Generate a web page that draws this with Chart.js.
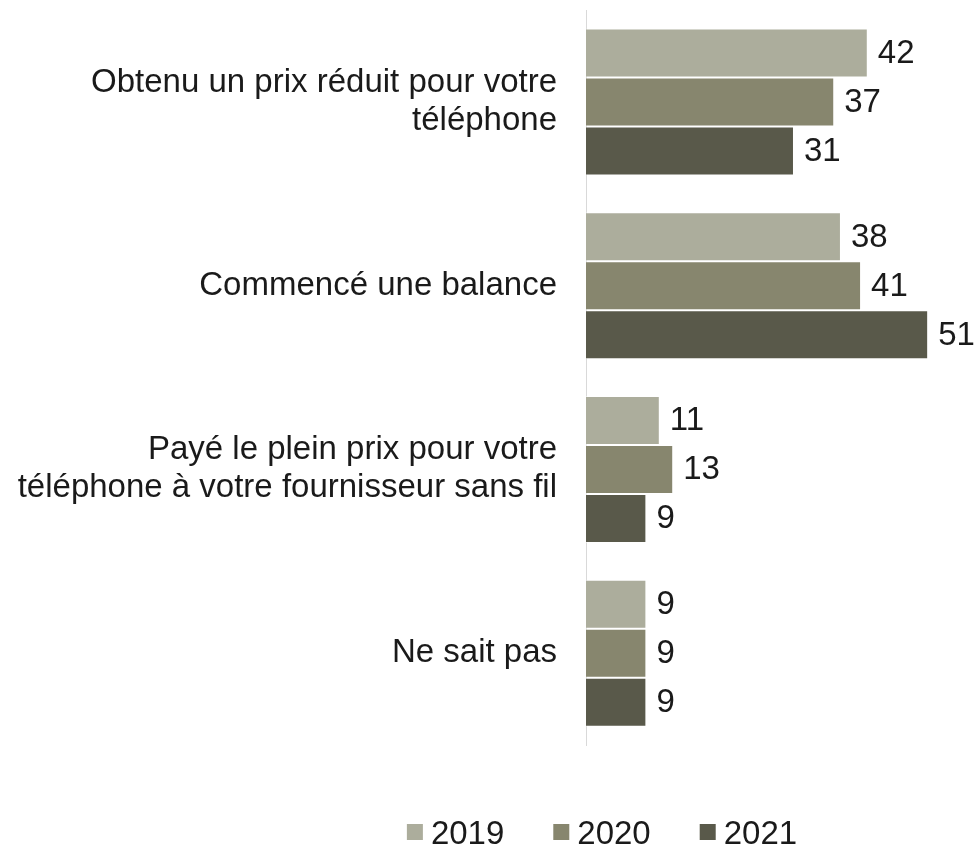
<!DOCTYPE html>
<html lang="fr">
<head>
<meta charset="utf-8">
<title>Prix du téléphone</title>
<script src="https://cdn.jsdelivr.net/npm/chart.js@4/dist/chart.umd.min.js"></script>
<style>
    html, body { margin: 0; padding: 0; background: #fff; }
    #wrap { width: 977px; height: 854px; position: relative; }
</style>
</head>
<body>
<div id="wrap"><canvas id="phoneChart"></canvas></div>
<script>
// Categories (multi-line labels) and yearly values
const categories = [
    ['Obtenu un prix réduit pour votre', 'téléphone'],
    'Commencé une balance',
    ['Payé le plein prix pour votre', 'téléphone à votre fournisseur sans fil'],
    'Ne sait pas'
];
const years = ['2019', '2020', '2021'];
const values2019 = [42, 38, 11, 9];
const values2020 = [37, 41, 13, 9];
const values2021 = [31, 51, 9, 9];

const colors = ['#acad9c', '#87866e', '#59594a'];
const fontFamily = '"Liberation Sans", Arial, sans-serif';
const textColor = '#1a1a1a';

// Writes each bar's value just past its end
const valueLabels = {
    id: 'valueLabels',
    afterDatasetsDraw(chart) {
        const ctx = chart.ctx;
        ctx.save();
        ctx.font = '33px ' + fontFamily;
        ctx.fillStyle = textColor;
        ctx.textAlign = 'left';
        ctx.textBaseline = 'middle';
        chart.data.datasets.forEach((ds, i) => {
            chart.getDatasetMeta(i).data.forEach((bar, j) => {
                ctx.fillText(ds.data[j], bar.x + 10, bar.y + 1);
            });
        });
        ctx.restore();
    }
};

// Legend row under the plot: small square + year, tight spacing
const bottomLegend = {
    id: 'bottomLegend',
    afterDraw(chart) {
        const ctx = chart.ctx;
        const box = 16, gap = 8, spacing = 49;
        const y = 834;
        ctx.save();
        ctx.font = '33px ' + fontFamily;
        ctx.textBaseline = 'middle';
        ctx.textAlign = 'left';
        const items = chart.data.datasets.map(ds => ({
            text: ds.label,
            color: ds.backgroundColor,
            w: box + gap + ctx.measureText(ds.label).width
        }));
        const total = items.reduce((s, it) => s + it.w, 0) + spacing * (items.length - 1);
        let x = 602 - total / 2;
        items.forEach(it => {
            ctx.fillStyle = it.color;
            ctx.fillRect(x, y - box / 2 - 2, box, box);
            ctx.fillStyle = textColor;
            ctx.fillText(it.text, x + box + gap, y + 1);
            x += it.w + spacing;
        });
        ctx.restore();
    }
};

const ctx = document.getElementById('phoneChart').getContext('2d');
const phoneChart = new Chart(ctx, {
    type: 'bar',
    data: {
        labels: categories,
        datasets: [
            { label: years[0], data: values2019, backgroundColor: colors[0] },
            { label: years[1], data: values2020, backgroundColor: colors[1] },
            { label: years[2], data: values2021, backgroundColor: colors[2] }
        ]
    },
    options: {
        indexAxis: 'y',
        responsive: true,
        maintainAspectRatio: false,
        animation: false,
        layout: { padding: { top: 10, right: 22, bottom: 109 } },
        datasets: {
            bar: {
                categoryPercentage: 0.8,
                barPercentage: 1,
                borderWidth: 1,
                borderColor: 'rgba(255,255,255,0.5)'
            }
        },
        plugins: {
            legend: { display: false },
            tooltip: { enabled: false }
        },
        scales: {
            x: {
                display: false,
                min: 0,
                max: 55
            },
            y: {
                grid: { display: false, drawTicks: false },
                border: { display: true, color: '#d9d9d9', width: 1 },
                ticks: {
                    padding: 29,
                    color: textColor,
                    font: { size: 33, family: fontFamily, lineHeight: 1.15 }
                },
                afterFit(scale) {
                    scale.width = 586;
                    scale.paddingTop = 0;
                    scale.paddingBottom = 0;
                }
            }
        }
    },
    plugins: [valueLabels, bottomLegend]
});
</script>
</body>
</html>
